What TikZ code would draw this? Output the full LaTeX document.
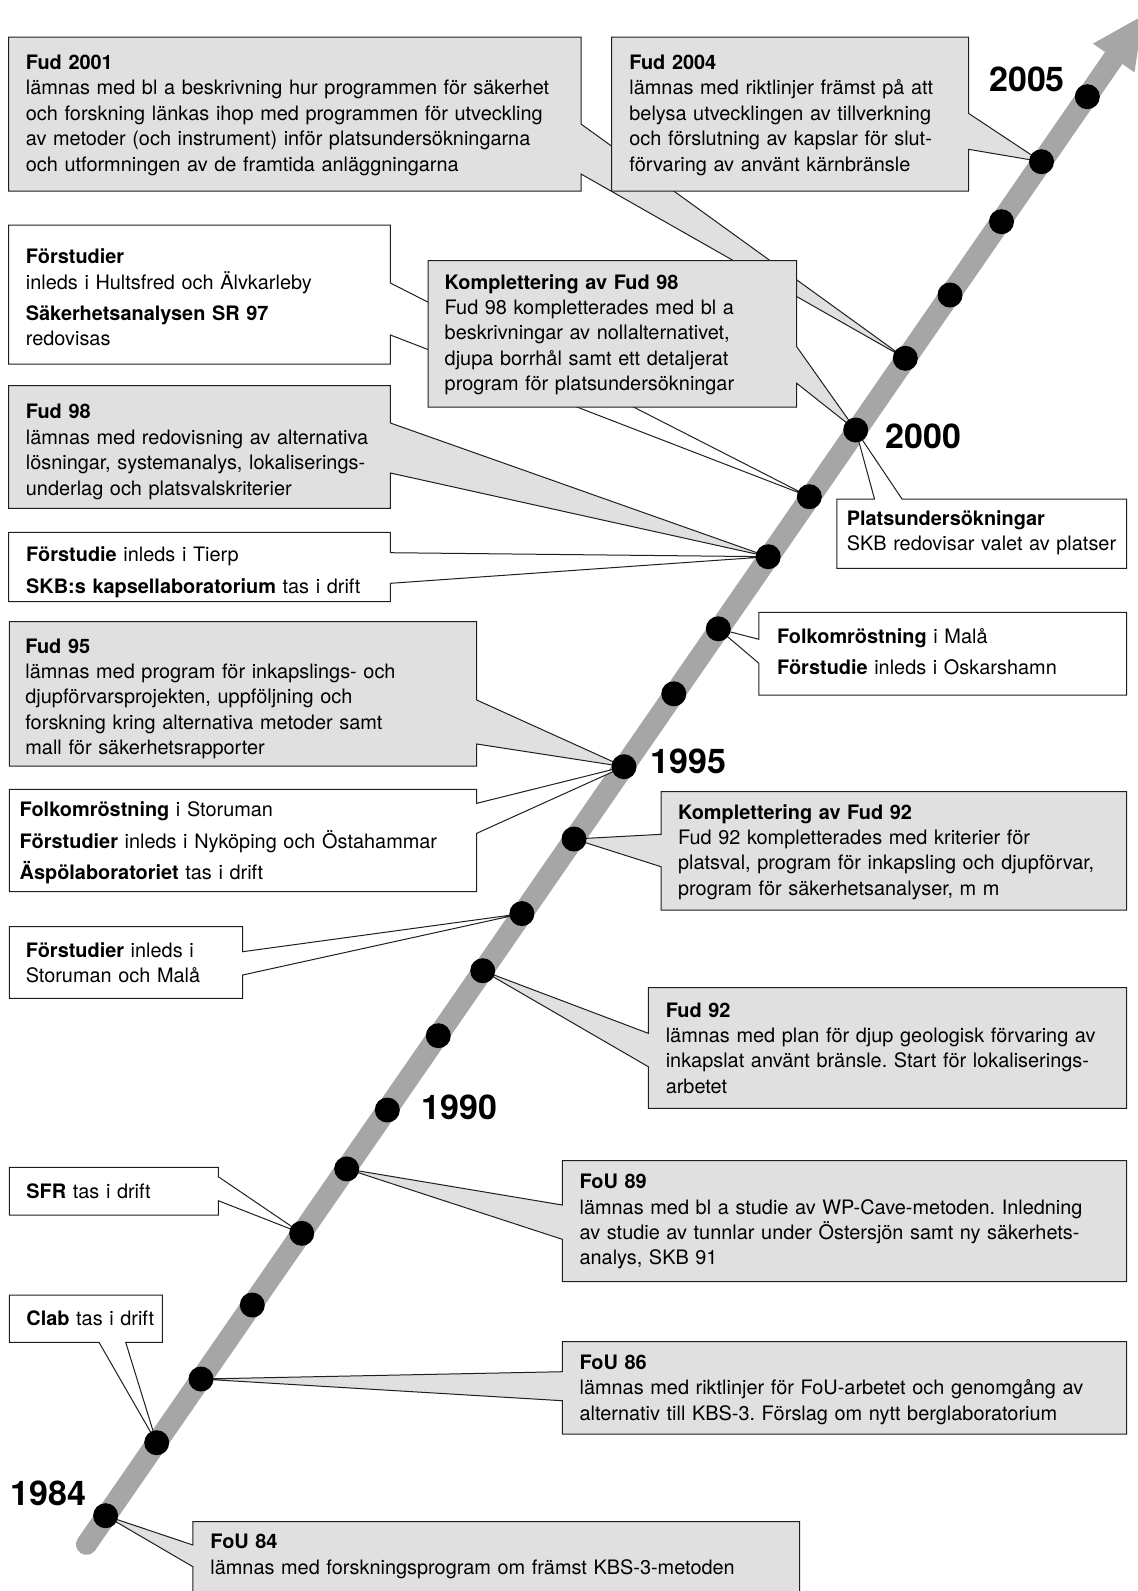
\documentclass[tikz,border=0pt]{standalone}
\usepackage{fontspec}
\setmainfont{TeX Gyre Heros}
\usetikzlibrary{calc}
\frenchspacing

\definecolor{boxgray}{gray}{0.88}
\definecolor{bargray}{gray}{0.65}
\definecolor{edge}{gray}{0.12}

\begin{document}
\begin{tikzpicture}[x=0.5pt,y=-0.5pt,
  callgray/.style={draw=edge, fill=boxgray, line width=0.5pt, line join=miter},
  callwhite/.style={draw=edge, fill=white, line width=0.5pt, line join=miter},
  txt/.style={anchor=base west, inner sep=0pt, align=left, text width=#1,
              font=\fontsize{9.95}{12.7}\selectfont},
  yearlabel/.style={font=\fontsize{17}{18}\selectfont\bfseries, inner sep=0pt},
  yeardot/.style={circle, fill=black, inner sep=0pt, minimum size=12.5pt},
]
\useasboundingbox (0,0) rectangle (1138,1591);

% ---- positions of the yearly marks along the time axis ----
\coordinate (p1)  at (105.6,1515.7);
\coordinate (p2)  at (156.7,1442.7);
\coordinate (p3)  at (201.0,1379.0);
\coordinate (p4)  at (252.3,1305.0);
\coordinate (p5)  at (301.7,1233.3);
\coordinate (p6)  at (346.7,1168.9);
\coordinate (p7)  at (387.3,1110.0);
\coordinate (p8)  at (438.3,1035.7);
\coordinate (p9)  at (482.7,970.7);
\coordinate (p10) at (521.9,913.6);
\coordinate (p11) at (574.0,839.0);
\coordinate (p12) at (624.0,766.7);
\coordinate (p13) at (673.8,693.8);
\coordinate (p14) at (718.3,628.8);
\coordinate (p15) at (768.2,556.7);
\coordinate (p16) at (809.3,496.7);
\coordinate (p17) at (855.7,430.0);
\coordinate (p18) at (905.3,358.3);
\coordinate (p19) at (950.0,295.0);
\coordinate (p20) at (1001.5,221.7);
\coordinate (p21) at (1041.5,161.7);
\coordinate (p22) at (1087.3,96.7);

% ---- time axis with arrow head ----
\coordinate (axS) at (86.5,1544.4);
\coordinate (axE) at (1113.7,58.0);
\coordinate (headL) at (1092.9,43.6);
\coordinate (headR) at (1134.5,72.4);
\coordinate (headT) at (1142.8,15.8);
\draw[bargray, line width=10.5pt, line cap=round] (axS) -- (axE);
\fill[bargray] (headL) -- (headT) -- (headR) -- cycle;

% ---- callouts (drawn in stacking order) ----
% Fud 2001
\path[callgray] (8.5,37) -- (581,37) -- (581,124) -- (p18) -- (581,174) -- (581,191) -- (8.5,191) -- cycle;
% Förstudier Hultsfred / SR 97
\path[callwhite] (8.6,225) -- (390.4,225) -- (390.4,283) -- (p16) -- (390.4,335) -- (390.4,364) -- (8.6,364) -- cycle;
% Fud 2004
\path[callgray] (611.7,37) -- (968.5,37) -- (968.5,113.3) -- (p21) -- (968.5,149.3) -- (968.5,191) -- (611.7,191) -- cycle;
% Komplettering av Fud 98
\path[callgray] (428,260.7) -- (796.7,260.7) -- (796.7,346.7) -- (p17) -- (796.7,383.3) -- (796.7,407) -- (428,407) -- cycle;
% Fud 98
\path[callgray] (8.6,385.7) -- (390.4,385.7) -- (390.4,423) -- (p15) -- (390.4,473) -- (390.4,508.3) -- (8.6,508.3) -- cycle;
% Förstudie Tierp
\path[callwhite] (8.6,532.3) -- (390.4,532.3) -- (390.4,552.7) -- (p15) -- (390.4,583.3) -- (390.4,601.7) -- (8.6,601.7) -- cycle;
% Platsundersökningar
\path[callwhite] (836.8,499) -- (874.5,499) -- (p17) -- (902,499) -- (1126.5,499) -- (1126.5,568.3) -- (836.8,568.3) -- cycle;
% Folkomröstning Malå
\path[callwhite] (758.9,612.3) -- (1126.5,612.3) -- (1126.5,695) -- (758.9,695) -- (758.9,663.3) -- (p14) -- (758.9,639.3) -- cycle;
% Fud 95
\path[callgray] (9.3,621.7) -- (476.7,621.7) -- (476.7,700) -- (p12) -- (476.7,744) -- (476.7,766) -- (9.3,766) -- cycle;
% Folkomröstning Storuman
\path[callwhite] (9.3,789.3) -- (476.7,789.3) -- (476.7,803.3) -- (p12) -- (476.7,833.3) -- (476.7,891.7) -- (9.3,891.7) -- cycle;
% Komplettering av Fud 92
\path[callgray] (661,791.7) -- (1126.5,791.7) -- (1126.5,910) -- (661,910) -- (661,866.7) -- (p11) -- (661,834.3) -- cycle;
% Förstudier Storuman och Malå
\path[callwhite] (9.3,926.7) -- (242.7,926.7) -- (242.7,951.7) -- (p10) -- (242.7,975) -- (242.7,998.3) -- (9.3,998.3) -- cycle;
% Fud 92
\path[callgray] (648.3,987.7) -- (1126.5,987.7) -- (1126.5,1108.3) -- (648.3,1108.3) -- (648.3,1066.7) -- (p9) -- (648.3,1033.3) -- cycle;
% FoU 89
\path[callgray] (562.3,1160.7) -- (1126.5,1160.7) -- (1126.5,1281.7) -- (562.3,1281.7) -- (562.3,1239.3) -- (p6) -- (562.3,1205) -- cycle;
% SFR
\path[callwhite] (9.3,1167.3) -- (218.3,1167.3) -- (218.3,1176.7) -- (p5) -- (218.3,1200.7) -- (218.3,1215) -- (9.3,1215) -- cycle;
% Clab
\path[callwhite] (9.3,1295) -- (162.3,1295) -- (162.3,1342.3) -- (125.7,1342.3) -- (p2) -- (99,1342.3) -- (9.3,1342.3) -- cycle;
% FoU 86
\path[callgray] (562.3,1341.7) -- (1126.5,1341.7) -- (1126.5,1434) -- (562.3,1434) -- (562.3,1400.7) -- (p3) -- (562.3,1371.7) -- cycle;
% FoU 84
\path[callgray] (192.9,1521.7) -- (799.5,1521.7) -- (799.5,1600) -- (192.9,1600) -- (192.9,1566.7) -- (p1) -- (192.9,1545) -- cycle;

% ---- yearly marks ----
\foreach \k in {1,...,22} { \node[yeardot] (d\k) at (p\k) {}; }

% ---- year labels ----
\node[yearlabel] (y2005) at (1027,79) {2005};
\node[yearlabel] (y2000) at (923.5,436) {2000};
\node[yearlabel] (y1995) at (688.3,761.7) {1995};
\node[yearlabel] (y1990) at (459.5,1107.6) {1990};
\node[yearlabel] (y1984) at (48.2,1493) {1984};

% ---- callout texts ----
\node[txt=290pt] (tA) at (25.5,69.5) {\textbf{Fud 2001}\\
lämnas med bl a beskrivning hur programmen för säkerhet\\
och forskning länkas ihop med programmen för utveckling\\
av metoder (och instrument) inför platsundersökningarna\\
och utformningen av de framtida anläggningarna};

\node[txt=175pt] (tB) at (629,69.5) {\textbf{Fud 2004}\\
lämnas med riktlinjer främst på att\\
belysa utvecklingen av tillverkning\\
och förslutning av kapslar för slut-\\
förvaring av använt kärnbränsle};

\node[txt=185pt] (tC) at (25.5,263.6) {\textbf{Förstudier}\\
inleds i Hultsfred och Älvkarleby\\[3pt]
\textbf{Säkerhetsanalysen SR 97}\\
redovisas};

\node[txt=180pt] (tD) at (444.3,289) {\textbf{Komplettering av Fud 98}\\
Fud 98 kompletterades med bl a\\
beskrivningar av nollalternativet,\\
djupa borrhål samt ett detaljerat\\
program för platsundersökningar};

\node[txt=185pt] (tE) at (25.5,418.8) {\textbf{Fud 98}\\
lämnas med redovisning av alternativa\\
lösningar, systemanalys, lokaliserings-\\
underlag och platsvalskriterier};

\node[txt=185pt] (tF) at (25.8,561.8) {\textbf{Förstudie} inleds i Tierp\\[3pt]
\textbf{SKB:s kapsellaboratorium} tas i drift};

\node[txt=230pt] (tG) at (25,653) {\textbf{Fud 95}\\
lämnas med program för inkapslings- och\\
djupförvarsprojekten, uppföljning och\\
forskning kring alternativa metoder samt\\
mall för säkerhetsrapporter};

\node[txt=230pt] (tH) at (19.3,816.7) {\textbf{Folkomröstning} i Storuman\\[3pt]
\textbf{Förstudier} inleds i Nyköping och Östahammar\\[3pt]
\textbf{Äspölaboratoriet} tas i drift};

\node[txt=225pt] (tI) at (677.7,819) {\textbf{Komplettering av Fud 92}\\
Fud 92 kompletterades med kriterier för\\
platsval, program för inkapsling och djupförvar,\\
program för säkerhetsanalyser, m m};

\node[txt=110pt] (tJ) at (25.4,957.4) {\textbf{Förstudier} inleds i\\
Storuman och Malå};

\node[txt=230pt] (tK) at (665.4,1017) {\textbf{Fud 92}\\
lämnas med plan för djup geologisk förvaring av\\
inkapslat använt bränsle. Start för lokaliserings-\\
arbetet};

\node[txt=100pt] (tL) at (26,1198.5) {\textbf{SFR} tas i drift};

\node[txt=70pt] (tM) at (26,1325.3) {\textbf{Clab} tas i drift};

\node[txt=270pt] (tN) at (579.2,1188.7) {\textbf{FoU 89}\\
lämnas med bl a studie av WP-Cave-metoden. Inledning\\
av studie av tunnlar under Östersjön samt ny säkerhets-\\
analys, SKB 91};

\node[txt=270pt] (tO) at (579.2,1369.2) {\textbf{FoU 86}\\
lämnas med riktlinjer för FoU-arbetet och genomgång av\\
alternativ till KBS-3. Förslag om nytt berglaboratorium};

\node[txt=290pt] (tP) at (210,1548.8) {\textbf{FoU 84}\\
lämnas med forskningsprogram om främst KBS-3-metoden};

\node[txt=140pt] (tQ) at (846.4,525.5) {\textbf{Platsundersökningar}\\
SKB redovisar valet av platser};

\node[txt=180pt] (tR) at (776.7,643.5) {\textbf{Folkomröstning} i Malå\\[3pt]
\textbf{Förstudie} inleds i Oskarshamn};

\end{tikzpicture}
\end{document}
